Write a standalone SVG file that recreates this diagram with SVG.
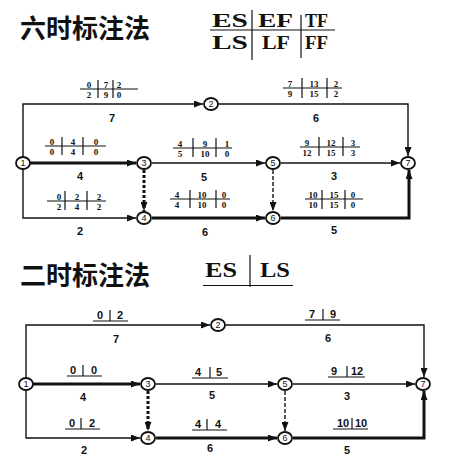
<svg xmlns="http://www.w3.org/2000/svg" width="452" height="464" viewBox="0 0 452 464">
<style>
.title{font-family:"Noto Sans CJK SC","Noto Sans CJK JP",sans-serif;font-weight:bold;font-size:26px;fill:#111}
.leg{font-family:"Liberation Serif",serif;font-weight:bold;font-size:19px;fill:#111}
.leg2{font-family:"Liberation Serif",serif;font-weight:bold;font-size:21px;fill:#111}
.fr{font-family:"Liberation Serif",serif;font-weight:bold;font-size:9px;fill:#111;text-anchor:middle}
.du{font-family:"Liberation Sans",sans-serif;font-weight:bold;font-size:11px;fill:#111;text-anchor:middle}
.lb{font-family:"Liberation Sans",sans-serif;font-weight:bold;font-size:11px;fill:#111;text-anchor:middle}
.nd{fill:#fff;stroke:#111;stroke-width:1.8}
.nt{font-family:"Liberation Sans",sans-serif;font-size:9px;fill:#111;text-anchor:middle}
.ln{stroke:#111;stroke-width:1.2;fill:none}
.e{stroke:#111;stroke-width:1.4;fill:none;marker-end:url(#ah)}
.ec{stroke:#111;stroke-width:3;fill:none;marker-end:url(#ah)}
.ed{stroke:#111;stroke-width:1.4;fill:none;stroke-dasharray:4 2;marker-end:url(#ah)}
.edc{stroke:#111;stroke-width:3;fill:none;stroke-dasharray:3 2;marker-end:url(#ah)}
</style>
<defs>
<marker id="ah" markerUnits="userSpaceOnUse" markerWidth="9" markerHeight="7" refX="9" refY="3.5" orient="auto">
<path d="M0,0 L9,3.5 L0,7 z" fill="#111"/>
</marker>
</defs>

<!-- Top section -->
<text class="title" x="20" y="38">六时标注法</text>
<g id="legend1">
<line class="ln" x1="210" y1="30" x2="335" y2="30" stroke-width="1.6"/>
<line class="ln" x1="252" y1="10" x2="252" y2="60"/>
<line class="ln" x1="301" y1="15" x2="301" y2="58"/>
<text class="leg" x="212" y="26.5" textLength="36" lengthAdjust="spacingAndGlyphs">ES</text>
<text class="leg" x="258" y="26.5" textLength="35" lengthAdjust="spacingAndGlyphs">EF</text>
<text class="leg" x="305" y="26.5" textLength="23" lengthAdjust="spacingAndGlyphs">TF</text>
<text class="leg" x="212" y="48.5" textLength="36" lengthAdjust="spacingAndGlyphs">LS</text>
<text class="leg" x="262" y="48.5" textLength="28" lengthAdjust="spacingAndGlyphs">LF</text>
<text class="leg" x="305" y="48.5" textLength="23" lengthAdjust="spacingAndGlyphs">FF</text>
</g>

<g id="connectors1">
<path class="e" d="M23,163 V104 H203"/>
<path class="e" d="M218,104 H408 V156"/>
<path class="ec" d="M30,163 H136"/>
<path class="e" d="M23,163 V218 H136"/>
<path class="e" d="M152,163 H265"/>
<path class="e" d="M281,163 H400"/>
<path class="edc" d="M144,170 V211"/>
<path class="ed" d="M273,170 V211"/>
<path class="ec" d="M152,218 H265"/>
<path class="ec" d="M281,218 H409 V170"/>
</g>

<g id="labels1">
<g><line class="ln" x1="80" y1="89" x2="138" y2="89"/><line class="ln" x1="98" y1="80" x2="98" y2="98"/><line class="ln" x1="113" y1="80" x2="113" y2="98"/>
<text class="fr" x="89" y="87.5">0</text><text class="fr" x="106" y="87.5">7</text><text class="fr" x="119" y="87.5">2</text>
<text class="fr" x="89" y="98">2</text><text class="fr" x="106" y="98">9</text><text class="fr" x="119" y="98">0</text></g>
<g><line class="ln" x1="45" y1="146" x2="106" y2="146"/><line class="ln" x1="62" y1="137" x2="62" y2="155"/><line class="ln" x1="83" y1="137" x2="83" y2="155"/>
<text class="fr" x="52" y="144.5">0</text><text class="fr" x="73" y="144.5">4</text><text class="fr" x="96" y="144.5">0</text>
<text class="fr" x="52" y="155">0</text><text class="fr" x="73" y="155">4</text><text class="fr" x="96" y="155">0</text></g>
<g><line class="ln" x1="47" y1="201" x2="106" y2="201"/><line class="ln" x1="65" y1="191" x2="65" y2="210"/><line class="ln" x1="87" y1="191" x2="87" y2="210"/>
<text class="fr" x="59" y="199.5">0</text><text class="fr" x="77" y="199.5">2</text><text class="fr" x="99" y="199.5">2</text>
<text class="fr" x="59" y="210">2</text><text class="fr" x="77" y="210">4</text><text class="fr" x="99" y="210">2</text></g>
<g><line class="ln" x1="173" y1="148" x2="232" y2="148"/><line class="ln" x1="193" y1="138" x2="193" y2="157"/><line class="ln" x1="216" y1="138" x2="216" y2="157"/>
<text class="fr" x="180" y="146.5">4</text><text class="fr" x="205" y="146.5">9</text><text class="fr" x="227" y="146.5">1</text>
<text class="fr" x="180" y="157">5</text><text class="fr" x="205" y="157">10</text><text class="fr" x="227" y="157">0</text></g>
<g><line class="ln" x1="170" y1="199" x2="230" y2="199"/><line class="ln" x1="190" y1="190" x2="190" y2="208"/><line class="ln" x1="216" y1="190" x2="216" y2="208"/>
<text class="fr" x="177" y="197.5">4</text><text class="fr" x="202" y="197.5">10</text><text class="fr" x="224" y="197.5">0</text>
<text class="fr" x="177" y="208">4</text><text class="fr" x="202" y="208">10</text><text class="fr" x="224" y="208">0</text></g>
<g><line class="ln" x1="283" y1="88" x2="342" y2="88"/><line class="ln" x1="302" y1="78" x2="302" y2="98"/><line class="ln" x1="327" y1="78" x2="327" y2="98"/>
<text class="fr" x="290" y="86.5">7</text><text class="fr" x="314" y="86.5">13</text><text class="fr" x="336" y="86.5">2</text>
<text class="fr" x="290" y="97">9</text><text class="fr" x="314" y="97">15</text><text class="fr" x="336" y="97">2</text></g>
<g><line class="ln" x1="300" y1="147" x2="360" y2="147"/><line class="ln" x1="319" y1="137" x2="319" y2="156"/><line class="ln" x1="343" y1="137" x2="343" y2="156"/>
<text class="fr" x="307" y="145.5">9</text><text class="fr" x="331" y="145.5">12</text><text class="fr" x="353" y="145.5">3</text>
<text class="fr" x="307" y="156">12</text><text class="fr" x="331" y="156">15</text><text class="fr" x="353" y="156">3</text></g>
<g><line class="ln" x1="305" y1="199" x2="363" y2="199"/><line class="ln" x1="322" y1="190" x2="322" y2="209"/><line class="ln" x1="345" y1="190" x2="345" y2="209"/>
<text class="fr" x="313" y="197.5">10</text><text class="fr" x="334" y="197.5">15</text><text class="fr" x="353" y="197.5">0</text>
<text class="fr" x="313" y="208">10</text><text class="fr" x="334" y="208">15</text><text class="fr" x="353" y="208">0</text></g>
<text class="du" x="112" y="122">7</text>
<text class="du" x="80" y="180">4</text>
<text class="du" x="80" y="235">2</text>
<text class="du" x="204" y="181">5</text>
<text class="du" x="205" y="236">6</text>
<text class="du" x="316" y="122">6</text>
<text class="du" x="334" y="180">3</text>
<text class="du" x="334" y="234">5</text>
</g>

<g id="t-n1"><ellipse class="nd" cx="23" cy="163" rx="7" ry="6"/><text class="nt" x="23" y="166">1</text></g>
<g id="t-n2"><ellipse class="nd" cx="211" cy="104" rx="7" ry="6"/><text class="nt" x="211" y="107">2</text></g>
<g id="t-n3"><ellipse class="nd" cx="144" cy="163" rx="7" ry="6"/><text class="nt" x="144" y="166">3</text></g>
<g id="t-n4"><ellipse class="nd" cx="144" cy="218" rx="7" ry="6"/><text class="nt" x="144" y="221">4</text></g>
<g id="t-n5"><ellipse class="nd" cx="273" cy="163" rx="7" ry="6"/><text class="nt" x="273" y="166">5</text></g>
<g id="t-n6"><ellipse class="nd" cx="273" cy="218" rx="7" ry="6"/><text class="nt" x="273" y="221">6</text></g>
<g id="t-n7"><ellipse class="nd" cx="408" cy="163" rx="7" ry="6"/><text class="nt" x="408" y="166">7</text></g>

<!-- Bottom section -->
<text class="title" x="20" y="285">二时标注法</text>
<g id="legend2">
<text class="leg2" x="205" y="277" textLength="32" lengthAdjust="spacingAndGlyphs">ES</text>
<text class="leg2" x="260" y="277" textLength="30" lengthAdjust="spacingAndGlyphs">LS</text>
<line class="ln" x1="250" y1="255" x2="250" y2="287"/>
<line class="ln" x1="203" y1="285.5" x2="293" y2="285.5" stroke-width="1.6"/>
</g>

<g id="connectors2">
<path class="e" d="M26,384 V325 H210"/>
<path class="e" d="M225,325 H424 V377"/>
<path class="ec" d="M33,384 H140"/>
<path class="e" d="M26,384 V438 H140"/>
<path class="e" d="M156,384 H277"/>
<path class="e" d="M293,384 H415"/>
<path class="edc" d="M148,391 V431"/>
<path class="ed" d="M285,391 V431"/>
<path class="ec" d="M156,438 H277"/>
<path class="ec" d="M293,438 H424 V391"/>
</g>

<g id="labels2">
<g><line class="ln" x1="93" y1="321" x2="128" y2="321"/><line class="ln" x1="110" y1="310" x2="110" y2="321"/><text class="lb" x="100" y="318.5">0</text><text class="lb" x="120" y="318.5">2</text></g>
<g><line class="ln" x1="67" y1="376" x2="102" y2="376"/><line class="ln" x1="83" y1="365" x2="83" y2="376"/><text class="lb" x="73" y="374">0</text><text class="lb" x="94" y="374">0</text></g>
<g><line class="ln" x1="65" y1="429" x2="100" y2="429"/><line class="ln" x1="81" y1="418" x2="81" y2="429"/><text class="lb" x="72" y="427">0</text><text class="lb" x="92" y="427">2</text></g>
<g><line class="ln" x1="192" y1="378" x2="228" y2="378"/><line class="ln" x1="210" y1="367" x2="210" y2="378"/><text class="lb" x="198" y="376">4</text><text class="lb" x="219" y="376">5</text></g>
<g><line class="ln" x1="192" y1="430" x2="227" y2="430"/><line class="ln" x1="207" y1="419" x2="207" y2="430"/><text class="lb" x="198" y="428">4</text><text class="lb" x="218" y="428">4</text></g>
<g><line class="ln" x1="305" y1="320" x2="340" y2="320"/><line class="ln" x1="323" y1="309" x2="323" y2="320"/><text class="lb" x="312" y="317.5">7</text><text class="lb" x="333" y="317.5">9</text></g>
<g><line class="ln" x1="328" y1="377" x2="365" y2="377"/><line class="ln" x1="347" y1="366" x2="347" y2="377"/><text class="lb" x="334" y="374.5">9</text><text class="lb" x="357" y="374.5">12</text></g>
<g><line class="ln" x1="333" y1="429" x2="368" y2="429"/><line class="ln" x1="352" y1="418" x2="352" y2="429"/><text class="lb" x="343" y="427">10</text><text class="lb" x="361" y="427">10</text></g>
<text class="du" x="116" y="343">7</text>
<text class="du" x="83" y="401">4</text>
<text class="du" x="84" y="454">2</text>
<text class="du" x="212" y="399">5</text>
<text class="du" x="210" y="452">6</text>
<text class="du" x="328" y="342">6</text>
<text class="du" x="347" y="400">3</text>
<text class="du" x="347" y="454">5</text>
</g>

<g id="b-n1"><ellipse class="nd" cx="26" cy="384" rx="7" ry="6"/><text class="nt" x="26" y="387">1</text></g>
<g id="b-n2"><ellipse class="nd" cx="218" cy="325" rx="7" ry="6"/><text class="nt" x="218" y="328">2</text></g>
<g id="b-n3"><ellipse class="nd" cx="148" cy="384" rx="7" ry="6"/><text class="nt" x="148" y="387">3</text></g>
<g id="b-n4"><ellipse class="nd" cx="148" cy="438" rx="7" ry="6"/><text class="nt" x="148" y="441">4</text></g>
<g id="b-n5"><ellipse class="nd" cx="285" cy="384" rx="7" ry="6"/><text class="nt" x="285" y="387">5</text></g>
<g id="b-n6"><ellipse class="nd" cx="285" cy="438" rx="7" ry="6"/><text class="nt" x="285" y="441">6</text></g>
<g id="b-n7"><ellipse class="nd" cx="423" cy="384" rx="7" ry="6"/><text class="nt" x="423" y="387">7</text></g>
</svg>
